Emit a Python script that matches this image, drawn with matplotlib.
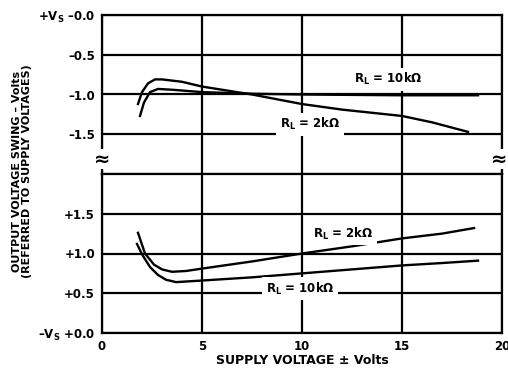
import matplotlib
matplotlib.use("Agg")
import matplotlib.pyplot as plt

plt.rcParams["font.family"] = ["DejaVu Sans"]
plt.rcParams["font.weight"] = "bold"
plt.rcParams["mathtext.fontset"] = "custom"
plt.rcParams["mathtext.rm"] = "DejaVu Sans:bold"
plt.rcParams["mathtext.bf"] = "DejaVu Sans:bold"
plt.rcParams["mathtext.it"] = "DejaVu Sans:bold"

# Positive swing (referred to +Vs), volts
top_2k_x = [1.8, 2.0, 2.3, 2.65, 3.0, 4.0, 5.0, 6.0, 7.5, 10.0, 12.0, 15.0, 16.5, 18.3]
top_2k_v = [-1.12, -0.97, -0.86, -0.81, -0.81, -0.84, -0.90, -0.94, -1.00, -1.12, -1.19, -1.27, -1.35, -1.47]
top_10k_x = [1.9, 2.1, 2.4, 2.8, 3.5, 5.0, 7.5, 10.0, 15.0, 18.8]
top_10k_v = [-1.27, -1.10, -0.97, -0.93, -0.94, -0.97, -0.99, -1.00, -1.01, -1.01]

# Negative swing (referred to -Vs), volts
bot_2k_x = [1.8, 2.15, 2.6, 3.0, 3.5, 4.2, 5.0, 7.5, 10.0, 12.5, 15.0, 17.0, 18.6]
bot_2k_v = [1.26, 1.00, 0.86, 0.80, 0.77, 0.78, 0.81, 0.90, 1.00, 1.09, 1.19, 1.25, 1.32]
bot_10k_x = [1.75, 2.0, 2.4, 2.8, 3.2, 3.7, 5.0, 7.5, 10.0, 12.5, 15.0, 17.0, 18.8]
bot_10k_v = [1.12, 0.99, 0.83, 0.73, 0.67, 0.64, 0.66, 0.70, 0.75, 0.80, 0.85, 0.88, 0.91]

x_ticks = [0, 5, 10, 15, 20]
top_ticks = [0.0, -0.5, -1.0, -1.5]
top_labels = [r"+$\mathbf{V_S}$ –0.0", "–0.5", "–1.0", "–1.5"]
bot_ticks = [1.5, 1.0, 0.5, 0.0]
bot_labels = ["+1.5", "+1.0", "+0.5", r"–$\mathbf{V_S}$ +0.0"]

W, H = 508, 371
fig = plt.figure(figsize=(W / 100, H / 100), dpi=100)
left, right = 102 / W, 502 / W
y_top, y_mid, y_bot = 1 - 15 / H, 1 - 174 / H, 1 - 333 / H
ax_t = fig.add_axes([left, y_mid, right - left, y_top - y_mid])
ax_b = fig.add_axes([left, y_bot, right - left, y_mid - y_bot])

lw_grid = 1.6
lw_curve = 1.7
fs = 8.5

for ax in (ax_t, ax_b):
    ax.set_xlim(0, 20)
    ax.set_xticks(x_ticks)
    ax.grid(True, color="black", linewidth=lw_grid)
    ax.set_axisbelow(True)
    for s in ax.spines.values():
        s.set_linewidth(lw_grid)
    ax.tick_params(length=0, pad=5, labelsize=fs)

ax_t.set_ylim(-2, 0)
ax_t.set_yticks(top_ticks)
ax_t.set_yticklabels(top_labels)
ax_t.tick_params(axis="x", labelbottom=False)

ax_b.set_ylim(0, 2)
ax_b.set_yticks(bot_ticks)
ax_b.set_yticklabels(bot_labels)
ax_b.set_xticklabels([str(t) for t in x_ticks])
ax_b.set_xlabel("SUPPLY VOLTAGE ± Volts", fontsize=9, fontweight="bold", labelpad=1)

ax_t.plot(top_2k_x, top_2k_v, color="black", lw=lw_curve, zorder=3)
ax_t.plot(top_10k_x, top_10k_v, color="black", lw=lw_curve, zorder=3)
ax_b.plot(bot_2k_x, bot_2k_v, color="black", lw=lw_curve, zorder=3)
ax_b.plot(bot_10k_x, bot_10k_v, color="black", lw=lw_curve, zorder=3)

box = dict(facecolor="white", edgecolor="none", pad=2.5)
ax_t.text(14.3, -0.81, r"$\mathbf{R_L}$ = 10kΩ", fontsize=fs, ha="center", va="center", bbox=box, zorder=4)
ax_t.text(10.4, -1.375, r"$\mathbf{R_L}$ = 2kΩ", fontsize=fs, ha="center", va="center", bbox=box, zorder=4)
ax_b.text(12.05, 1.25, r"$\mathbf{R_L}$ = 2kΩ", fontsize=fs, ha="center", va="center", bbox=box, zorder=4)
ax_b.text(9.9, 0.56, r"$\mathbf{R_L}$ = 10kΩ", fontsize=fs, ha="center", va="center", bbox=box, zorder=4)

# axis-break marks on both side frames
for xf in (left, right - 3 / W):
    fig.text(xf, 1 - 159 / H, "≈", fontsize=14, ha="center", va="center",
             bbox=dict(facecolor="white", edgecolor="none", pad=0.2), zorder=5)

fig.text(22 / W, 1 - 171 / H, "OUTPUT VOLTAGE SWING – Volts\n(REFERRED TO SUPPLY VOLTAGES)",
         rotation=90, ha="center", va="center", fontsize=8, fontweight="bold",
         linespacing=0.95)

fig.savefig("out.png", dpi=100)
